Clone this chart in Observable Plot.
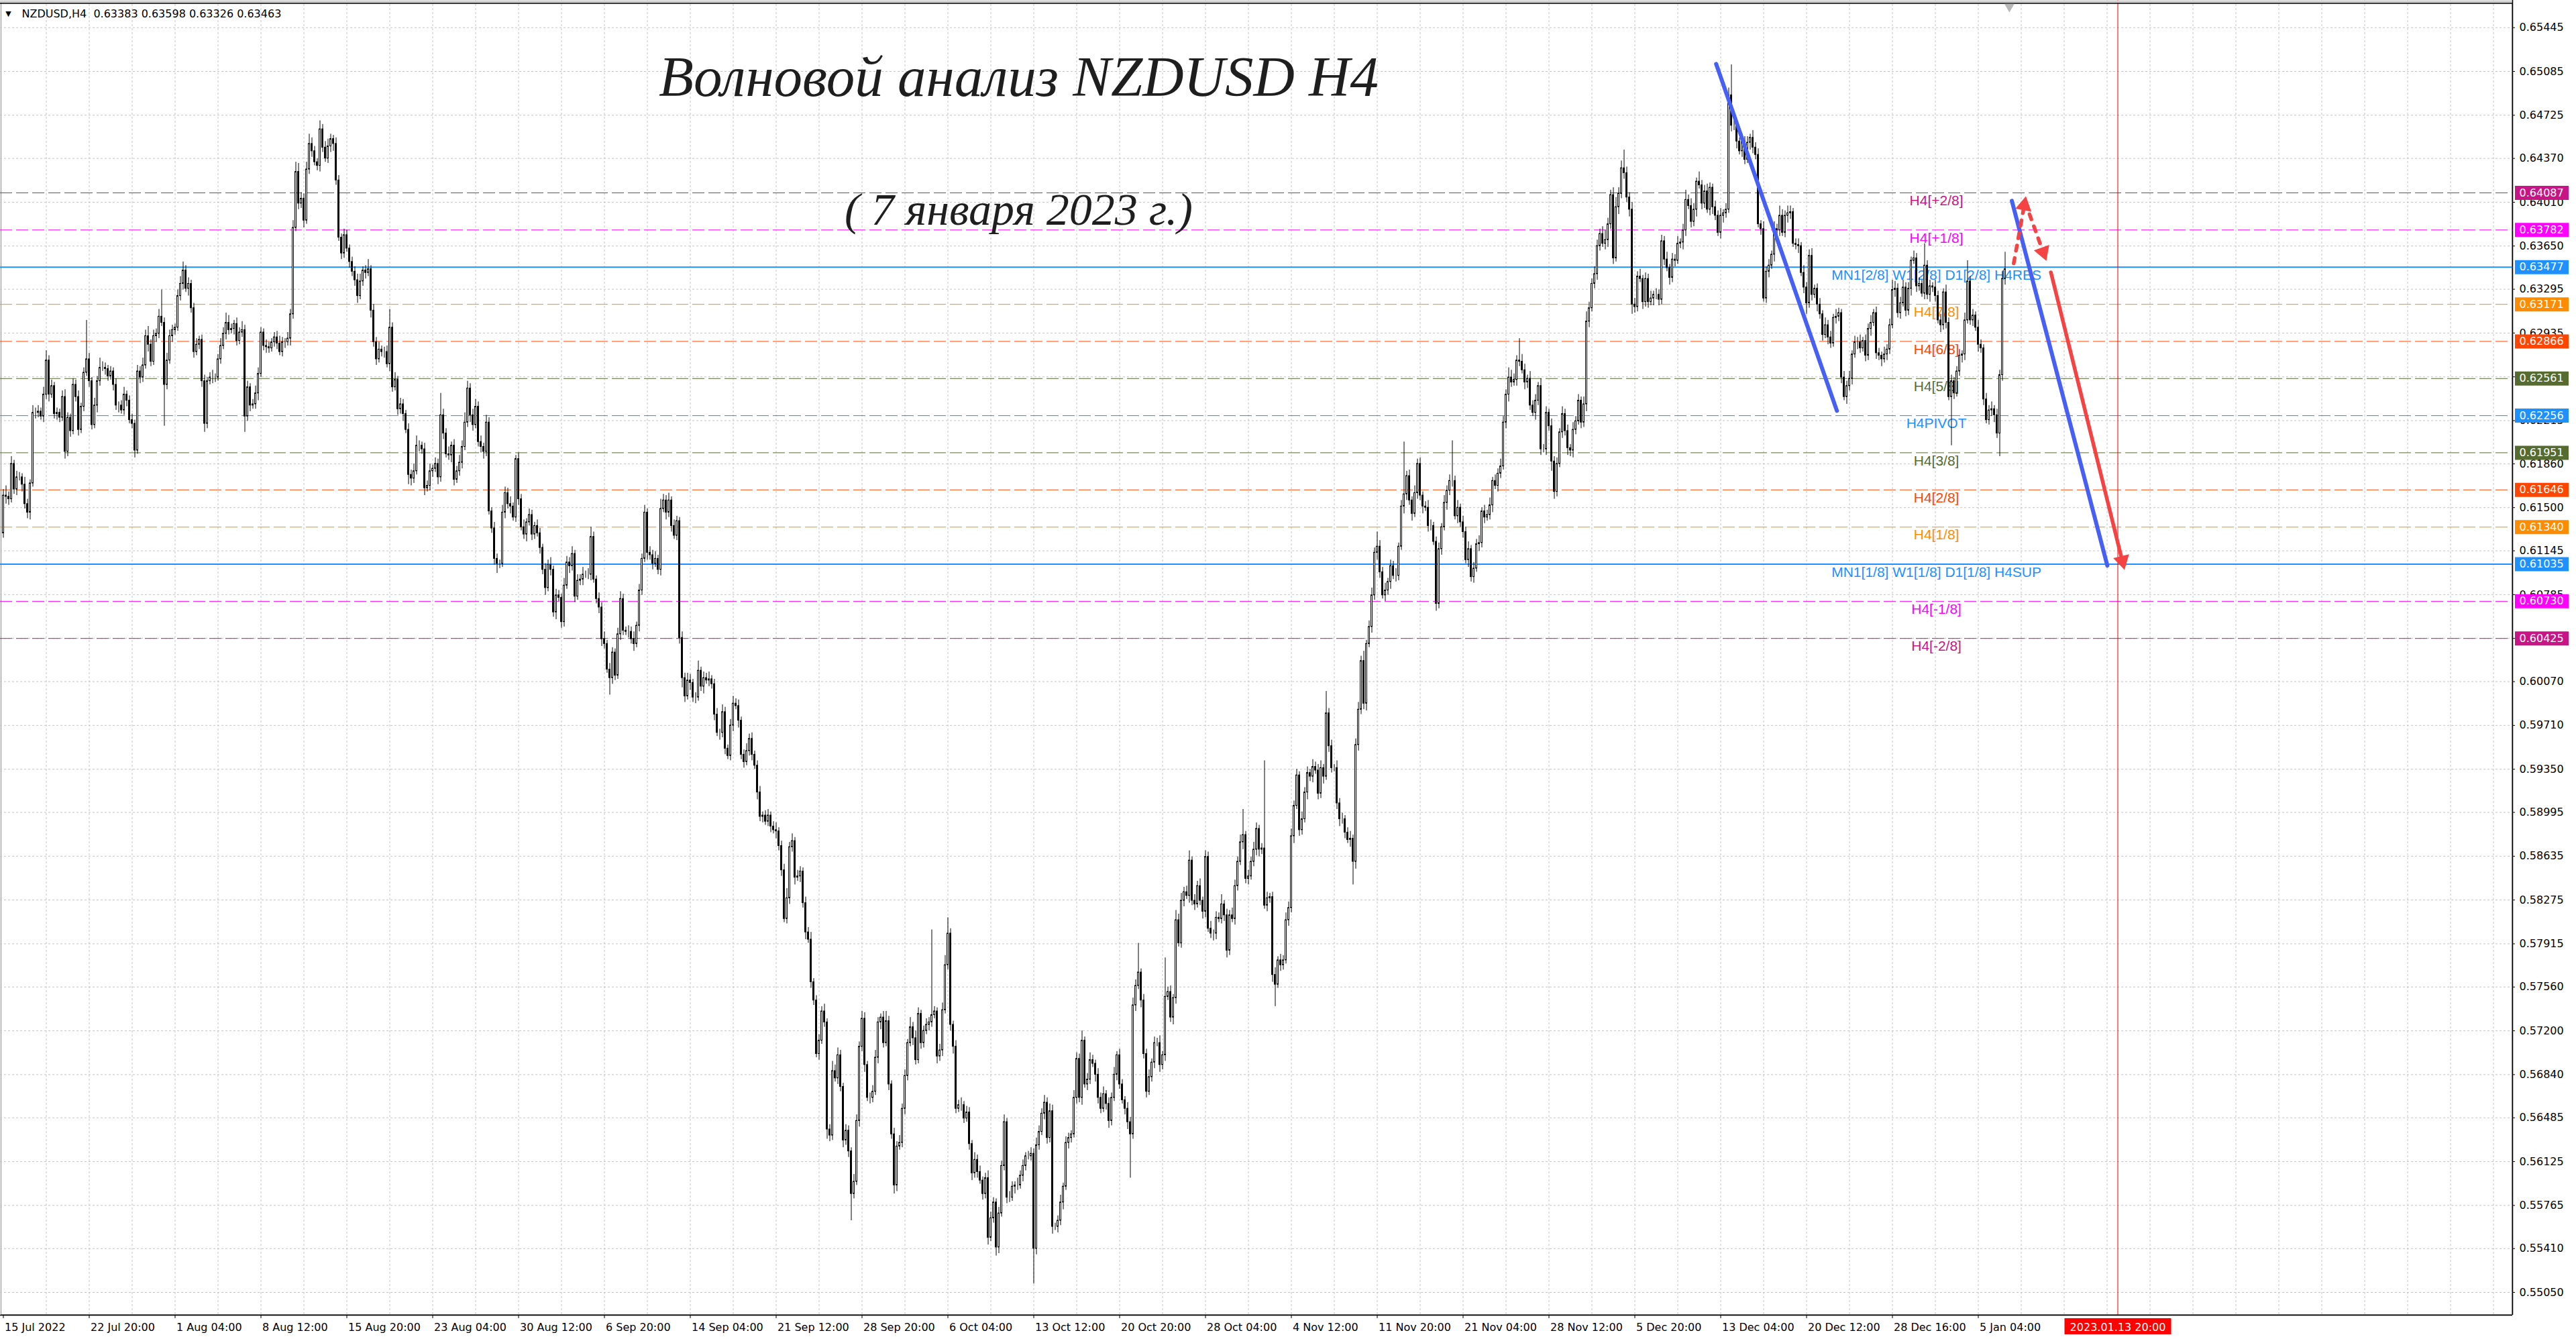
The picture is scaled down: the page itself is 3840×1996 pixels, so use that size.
<!DOCTYPE html>
<html><head><meta charset="utf-8">
<script src="https://cdn.jsdelivr.net/npm/d3@7"></script>
<script src="https://cdn.jsdelivr.net/npm/@observablehq/plot@0.6"></script>
<style>html,body{margin:0;padding:0;background:#fff;overflow:hidden}svg{display:block}</style>
</head><body><div id="chart"></div>
<script>
// ===== DATA =====
const symbolName = "NZDUSD,H4";
const lastBarOHLC = [0.63383, 0.63598, 0.63326, 0.63463];
const titleText = "Волновой анализ NZDUSD H4";
const subtitleText = "( 7 января 2023 г.)";

// H4 closes in pips (0.0001), bar 0 = 15 Jul 2022 12:00
const firstOpen = 6129;
const closesA = [
6160,6159,6157,6186,6165,6175,6175,6169,6153,6146,
6170,6228,6228,6229,6225,6243,6271,6243,6250,6227,
6228,6224,6241,6196,6224,6213,6251,6241,6214,6233,
6261,6272,6254,6218,6234,6254,6265,6265,6264,6258,
6262,6251,6234,6234,6230,6243,6238,6222,6219,6197,
6262,6257,6267,6291,6284,6270,6291,6293,6307,6302,
6251,6271,6291,6296,6298,6324,6334,6345,6330,6334,
6314,6278,6284,6288,6254,6219,6254,6257,6257,6257,
6272,6283,6293,6302,6296,6297,6301,6287,6294,6296,
6225,6249,6234,6235,6244,6260,6294,6283,6282,6281,
6286,6290,6285,6278,6286,6286,6289,6309,6380,6426,
6400,6404,6386,6428,6449,6443,6434,6431,6461,6446,
6437,6447,6453,6449,6419,6372,6359,6374,6363,6352,
6344];
const closesB = [
6337,6324,6336,6345,6343,6346,6312,6286,6272,6280,
6278,6278,6268,6298,6249,6255,6231,6235,6227,6214,
6177,6174,6180,6201,6201,6198,6166,6168,6180,6182,
6186,6175,6226,6211,6194,6193,6201,6173,6180,6187,
6200,6220,6248,6226,6218,6233,6204,6200,6196,6220,
6147,6133,6108,6104,6104,6146,6162,6153,6151,6142,
6190,6157,6134,6128,6138,6144,6128,6135,6129,6117,
6099,6084,6103,6099,6064,6078,6076,6056,6086,6105,
6102,6112,6077,6090,6091,6095,6095,6095,6126,6091,
6075,6068,6042,6038,6017,6010,6031,6012,6046,6075,
6049,6048,6048,6042,6038,6053,6082,6108,6146,6113,
6111,6104,6108,6099,6149,6156,6146,6156,6135,6127,
6139,6043,6010];
const closesC = [
5995,6008,6006,5994,5994,6016,6003,6010,6008,6009,
6005,5980,5965,5965,5982,5952,5946,5971,5989,5987,
5975,5947,5941,5950,5960,5947,5938,5916,5896,5897,
5892,5897,5888,5885,5884,5872,5852,5812,5829,5871,
5876,5846,5847,5851,5825,5801,5795,5760,5745,5701,
5712,5736,5727,5639,5634,5687,5681,5700,5674,5630,
5638,5621,5586,5596,5646,5707,5730,5692,5665,5665,
5670,5698,5727,5731,5710,5728,5676,5635,5593,5625,
5628,5656,5683,5710,5723,5714,5696,5734,5710,5720,
5725,5727,5733,5736,5699,5704,5737,5774,5800,5725,
5707,5656,5659,5659,5648,5653,5627,5603,5614,5604,
5597,5586,5599,5550,5566,5579,5542,5570,5609,5645,
5583,5583,5592,5593,5593,5601,5609,5617,5617,5619,
5541,5626,5637,5652,5661];
const closesD = [
5632,5654,5559,5559,5564,5579,5592,5628,5632,5635,
5665,5697,5665,5712,5676,5680,5696,5693,5684,5665,
5656,5668,5660,5646,5665,5684,5700,5676,5663,5656,
5645,5635,5741,5757,5768,5745,5701,5670,5682,5694,
5710,5710,5692,5700,5748,5752,5731,5747,5811,5792,
5827,5834,5831,5860,5827,5824,5839,5827,5818,5863,
5804,5800,5800,5813,5812,5824,5815,5786,5815,5812,
5839,5859,5875,5881,5845,5847,5859,5869,5886,5869,
5870,5823,5829,5830,5766,5758,5778,5774,5778,5811,
5821,5880,5905,5930,5885,5894,5916,5932,5929,5937,
5934,5915,5936,5929,5981,5954,5936,5936,5907,5894,
5894,5883,5877,5878,5859];
const closesE = [
5955,5984,6024,5989,6038,6052,6078,6113,6118,6097,
6078,6082,6089,6102,6094,6094,6118,6151,6161,6176,
6156,6145,6162,6186,6160,6151,6150,6135,6135,6122,
6071,6116,6134,6154,6164,6172,6172,6143,6150,6138,
6130,6107,6116,6093,6100,6120,6121,6147,6142,6144,
6152,6172,6168,6178,6184,6220,6243,6257,6253,6255,
6271,6270,6263,6253,6256,6234,6228,6238,6250,6198,
6198,6228,6217,6188,6163,6186,6212,6227,6213,6199,
6197,6214,6221,6238,6220,6235,6303,6314,6334,6342,
6365,6375,6367,6370,6383,6407,6355,6397,6408,6429,
6425,6405,6395,6317,6315,6340,6338,6319,6338,6319,
6322,6325,6325,6321];
const closesF = [
6369,6354,6347,6339,6354,6353,6367,6368,6378,6403,
6398,6385,6395,6418,6415,6400,6410,6395,6413,6397,
6390,6376,6390,6392,6395,6489,6464,6464,6451,6443,
6451,6436,6450,6454,6446,6440,6383,6379,6322,6344,
6349,6358,6379,6378,6390,6376,6390,6392,6393,6367,
6366,6365,6343,6331,6318,6357,6325,6330,6317,6309,
6292,6300,6290,6285,6306,6307,6310,6257,6241,6250,
6256,6276,6286,6286,6281,6287,6275,6297,6302,6310,
6277,6275,6272,6276,6280,6300,6329,6330,6310,6318,
6331,6312,6330,6353,6355,6332,6334,6326,6349,6325,
6332,6331,6324,6304,6300,6327,6302,6241,6254,6244,
6262,6275,6276,6304,6336,6304,6308,6298,6284,6281,
6239,6222,6230,6231,6226,6211,6259,6338,6346];

// upper / lower shadow lengths in pips
const wickUpA = [5,8,4,6,3,5,4,3,6,4,3,6,4,5,3,6,8,4,5,3,4,3,5,6,4,3,5,4,5,3,4,32,5,3,6,4,8,5,4,3,4,3,5,3,4,6,3,4,5,3,5,4,6,5,8,4,5,4,6,22,4,6,5,4,3,5,6,7,4,5,3,4,5,3,4,5,3,4,6,3,4,6,5,8,6,4,3,5,4,7,4,5,3,4,6,5,4,3,5,4,3,4,5,6,4,3,5,4,6,8,7,5,4,6,8,5,4,3,7,4,5,6,4,3,5,4,3,5,4,3,4];
const wickDnA = [4,6,5,3,4,5,3,6,4,5,6,3,5,4,3,5,4,6,3,4,5,4,3,6,4,5,3,4,5,3,4,3,5,4,3,6,4,3,5,4,3,5,4,6,3,4,5,3,4,6,3,5,4,3,6,4,3,5,4,3,34,4,3,5,4,3,4,5,3,6,4,5,3,4,5,7,4,3,5,4,3,4,3,5,4,3,5,4,3,4,13,4,5,3,4,6,3,4,5,4,3,4,5,3,4,5,3,6,4,3,5,4,6,3,4,5,3,4,5,4,3,4,5,6,4,3,5,4,3,5,4];
const wickUpB = [4,5,6,3,4,8,3,5,4,6,3,4,5,15,4,6,3,5,4,3,5,4,6,8,4,3,5,4,6,3,5,4,18,5,4,6,3,5,4,6,5,8,6,4,5,6,4,5,3,6,4,3,5,4,3,6,5,4,6,3,3,5,4,6,3,5,4,3,5,4,3,5,4,6,3,5,4,3,6,5,4,6,3,5,4,6,3,5,8,4,3,5,4,6,3,5,4,3,5,6,4,3,5,4,6,3,5,4,6,3,5,4,6,3,8,5,4,6,3,5,4,3,5];
const wickDnB = [5,6,3,4,5,3,6,4,5,3,4,5,3,6,4,3,5,4,6,3,8,6,4,3,5,4,6,3,4,5,3,6,4,5,3,4,6,5,3,4,5,3,4,6,5,3,4,5,6,4,3,4,5,8,4,3,5,4,6,3,4,5,3,4,6,3,5,4,3,5,4,6,3,5,4,6,3,5,4,3,6,4,5,3,4,5,3,4,5,3,4,5,6,4,3,14,5,4,3,5,4,3,5,4,6,3,5,4,3,6,4,5,3,4,5,3,6,4,5,3,4,5,8];
const wickUpC = [4,6,5,3,4,8,3,5,4,6,3,4,5,3,6,4,3,5,6,4,5,3,4,6,4,5,3,4,5,3,4,5,3,4,6,3,4,5,8,4,6,3,5,4,3,5,4,6,3,4,5,4,6,3,4,8,5,6,4,3,5,4,3,6,5,4,6,5,3,4,5,6,4,3,5,8,4,3,5,4,6,4,5,3,8,4,6,5,3,4,5,4,70,4,3,5,6,8,13,4,3,5,4,6,3,5,4,3,6,4,5,3,4,6,5,4,3,5,4,6,3,5,4,3,6,4,5,3,4,5,4,6,5,4,6];
const wickDnC = [5,3,6,4,5,3,4,6,3,5,4,5,3,6,4,5,3,4,5,3,6,4,5,3,4,5,3,6,4,5,3,4,5,3,6,4,5,3,4,5,4,6,3,5,4,6,3,5,4,3,5,3,4,8,5,4,3,5,4,6,4,5,22,4,3,5,4,6,3,5,4,3,5,6,4,3,5,4,7,5,3,4,5,4,3,6,4,3,5,4,3,5,4,3,6,4,5,3,4,5,6,4,3,5,4,3,5,6,4,5,3,5,4,6,3,4,7,5,3,4,5,4,3,6,4,3,5,4,3,4,29,5,4,3,5];
const wickUpD = [4,6,5,3,4,6,3,5,4,3,6,5,4,8,3,5,6,4,3,5,4,6,3,5,4,6,3,5,4,3,5,4,6,5,24,3,5,4,6,3,5,4,6,3,32,4,5,3,8,5,6,4,5,8,3,5,4,6,3,5,4,6,3,5,4,8,3,5,4,6,5,4,6,21,3,5,4,6,5,3,4,72,5,3,4,6,3,5,4,6,5,6,4,5,3,6,4,5,3,6,4,5,6,3,18,4,5,3,6,4,5,3,4,6,3];
const wickDnD = [5,4,6,3,5,4,6,3,5,4,3,5,4,6,3,5,4,3,6,5,4,3,5,6,4,3,5,4,3,5,6,36,4,5,3,6,4,5,3,4,5,3,6,4,5,3,4,6,5,3,4,5,3,6,4,5,3,4,6,5,3,4,6,5,3,4,5,6,4,3,5,4,3,6,4,5,3,4,5,6,4,3,5,4,6,18,3,5,4,3,5,4,6,3,5,4,3,6,4,5,3,5,4,6,3,5,4,3,5,6,4,5,3,6,19];
const wickUpE = [5,6,4,8,3,5,6,4,12,5,4,6,3,5,4,6,3,5,43,4,5,3,6,4,5,3,4,6,5,3,4,5,3,6,4,5,33,4,6,3,5,4,6,3,5,4,6,3,5,4,6,3,5,4,6,5,4,8,6,5,4,18,6,5,3,6,4,5,3,6,4,5,3,6,4,5,3,6,4,5,3,6,4,5,3,6,8,5,4,6,5,4,6,8,5,4,6,8,5,6,15,5,4,6,5,4,6,3,5,4,6,3,5,4];
const wickDnE = [6,5,4,5,6,3,5,4,6,5,3,5,4,6,3,5,4,3,6,5,4,6,3,5,4,6,3,5,4,3,6,4,5,3,6,4,5,3,6,4,5,3,6,4,5,3,6,4,5,3,4,6,3,5,4,3,5,6,4,3,5,4,3,6,5,4,3,6,4,5,3,5,4,8,6,4,3,5,4,6,5,6,4,3,5,4,6,5,3,4,5,4,3,5,6,4,5,3,6,4,5,4,6,8,5,4,3,6,4,5,3,6,4,5];
const wickUpF = [5,4,6,3,5,4,6,3,5,8,4,6,5,3,8,4,5,6,4,3,5,4,6,3,5,6,25,4,5,3,6,4,5,3,6,4,5,3,6,4,5,3,6,4,8,5,4,6,5,3,4,5,3,6,4,5,6,3,4,5,3,6,4,5,3,6,4,3,5,4,6,3,5,4,6,3,5,4,6,3,5,4,3,6,4,5,8,6,4,5,6,4,5,3,6,4,5,3,18,4,5,3,6,4,5,3,6,4,5,3,4,5,3,6,17,4,5,3,6,4,3,5,4,6,3,5,4,6,14];
const wickDnF = [4,5,3,6,4,5,3,4,6,5,3,5,4,6,3,5,4,3,5,6,4,3,5,6,4,3,5,4,6,3,5,4,3,6,5,4,3,5,3,4,5,3,6,4,5,3,4,6,5,3,4,6,3,5,9,4,5,3,6,4,5,3,6,4,3,5,4,5,3,6,4,5,3,6,4,3,5,4,6,3,5,4,6,3,5,4,3,6,4,5,3,5,4,6,3,5,4,3,5,4,6,4,5,3,6,4,5,3,40,5,3,4,6,5,3,4,5,3,6,4,5,3,4,5,6,4,19,5,5];

// axis ticks and labels
const priceTicks = [0.65445,0.65085,0.64725,0.64370,0.64010,0.63650,0.63295,0.62935,0.62575,0.62215,0.61860,0.61500,0.61145,0.60785,0.60425,0.60070,0.59710,0.59350,0.58995,0.58635,0.58275,0.57915,0.57560,0.57200,0.56840,0.56485,0.56125,0.55765,0.55410,0.55050];
const timeLabels = ["15 Jul 2022","22 Jul 20:00","1 Aug 04:00","8 Aug 12:00","15 Aug 20:00","23 Aug 04:00","30 Aug 12:00","6 Sep 20:00","14 Sep 04:00","21 Sep 12:00","28 Sep 20:00","6 Oct 04:00","13 Oct 12:00","20 Oct 20:00","28 Oct 04:00","4 Nov 12:00","11 Nov 20:00","21 Nov 04:00","28 Nov 12:00","5 Dec 20:00","13 Dec 04:00","20 Dec 12:00","28 Dec 16:00","5 Jan 04:00"];
const timeLabelBars = [0,32,64,96,128,160,192,224,256,288,320,352,384,416,448,480,512,544,576,608,640,672,704,736];
const futureBar = 788;
const futureLabel = "2023.01.13 20:00";
const chartShiftBar = 747.6;

// Murrey levels
const levelValues = [0.64087,0.63782,0.63477,0.63171,0.62866,0.62561,0.62256,0.61951,0.61646,0.61340,0.61035,0.60730,0.60425];
const levelNames = ["H4[+2/8]","H4[+1/8]","MN1[2/8] W1[2/8] D1[2/8] H4RES","H4[7/8]","H4[6/8]","H4[5/8]","H4PIVOT","H4[3/8]","H4[2/8]","H4[1/8]","MN1[1/8] W1[1/8] D1[1/8] H4SUP","H4[-1/8]","H4[-2/8]"];
const levelColors = ["#C71585","#FF00FF","#1E90FF","#FF8C00","#FF4500","#556B2F","#1E90FF","#556B2F","#FF4500","#FF8C00","#1E90FF","#FF00FF","#C71585"];
const levelSolid = [false,false,true,false,false,false,false,false,false,false,true,false,false];
const levelLabelBar = 720.4;

// hand-drawn forecast lines (bar index, price)
const blueLines = [
  {x1: 638.3, y1: 0.65147, x2: 683.3, y2: 0.62296},
  {x1: 748.5, y1: 0.64022, x2: 784.1, y2: 0.61023}
];
const redSolidArrows = [{x1: 763.05, y1: 0.63434, x2: 790.5, y2: 0.60988}];
const redDashedArrows = [
  {x1: 749.2, y1: 0.63508, x2: 753.75, y2: 0.64059},
  {x1: 755.1, y1: 0.63911, x2: 761.35, y2: 0.63528}
];

// ===== BUILD =====
const W = 3840, H = 1996, mR = 95, mB = 36;
const FW = W - mR, FH = H - mB;
const xDomain = [-1.125, 935.125];
const yDomain = [0.548627, 0.656694];
const xPx = d3.scaleLinear(xDomain, [0, FW]);
const yPx = d3.scaleLinear(yDomain, [FH, 0]);

const closes = [...closesA, ...closesB, ...closesC, ...closesD, ...closesE, ...closesF];
const wUp = [...wickUpA, ...wickUpB, ...wickUpC, ...wickUpD, ...wickUpE, ...wickUpF];
const wDn = [...wickDnA, ...wickDnB, ...wickDnC, ...wickDnD, ...wickDnE, ...wickDnF];
const candles = closes.map((c, i) => {
  const o = i === 0 ? firstOpen : closes[i - 1];
  return {i, open: o / 1e4, close: c / 1e4,
    high: (Math.max(o, c) + (wUp[i] ?? 3)) / 1e4,
    low: (Math.min(o, c) - (wDn[i] ?? 3)) / 1e4,
    bull: c >= o};
});
const levels = levelValues.map((v, k) => ({value: v, name: levelNames[k], color: levelColors[k], solid: levelSolid[k]}));
const timeTicks = timeLabels.map((t, k) => ({bar: timeLabelBars[k], label: t}));
const gridBars = d3.range(16, 936, 16);

const HEAD = 21;
function arrowParts(arr) {
  return arr.map(a => {
    const x0 = xPx(a.x1), y0 = yPx(a.y1), x1 = xPx(a.x2), y1 = yPx(a.y2);
    const L = Math.hypot(x1 - x0, y1 - y0), ux = (x1 - x0) / L, uy = (y1 - y0) / L;
    return {
      x1: a.x1, y1: a.y1,
      ex: xPx.invert(x1 - ux * HEAD * 0.8), ey: yPx.invert(y1 - uy * HEAD * 0.8),
      cx: xPx.invert(x1 - ux * HEAD * 2 / 3), cy: yPx.invert(y1 - uy * HEAD * 2 / 3),
      angle: Math.atan2(ux, -uy) * 180 / Math.PI
    };
  });
}
const redSolid = arrowParts(redSolidArrows);
const redDashed = arrowParts(redDashedArrows);
const headR = Math.sqrt(3 * Math.sqrt(3) * (HEAD / 3) ** 2 / Math.PI);

const BLUE = "#4660f5", RED = "#f54242";
const FONT = "DejaVu Sans";

const plot = Plot.plot({
  width: W, height: H,
  marginLeft: 0, marginRight: mR, marginTop: 0, marginBottom: mB,
  x: {domain: xDomain, axis: null},
  y: {domain: yDomain, axis: null},
  style: {fontFamily: FONT, fontSize: "16px", background: "#fff", color: "#000"},
  marks: [
    Plot.frame({stroke: "#8a8a8a", inset: 1}),
    // grid
    Plot.ruleY(priceTicks, {stroke: "#c4c4c4", strokeDasharray: "3,3"}),
    Plot.ruleX(gridBars, {stroke: "#c4c4c4", strokeDasharray: "3,3"}),
    // Murrey levels
    Plot.ruleY(levels.filter(d => !d.solid), {y: "value", stroke: "color", strokeDasharray: "18,6"}),
    Plot.ruleY(levels.filter(d => d.solid), {y: "value", stroke: "color", strokeWidth: 2}),
    Plot.text(levels, {x: () => levelLabelBar, y: "value", text: "name", fill: "color", dy: 12,
      fontSize: 21, fontFamily: "Liberation Sans"}),
    // future time marker
    Plot.ruleX([futureBar], {stroke: "#e60000"}),
    // candles
    Plot.ruleX(candles, {x: "i", y1: "low", y2: "high", stroke: "#000"}),
    Plot.rect(candles, {x1: d => d.i - 0.25, x2: d => d.i + 0.25, y1: "open", y2: "close",
      fill: d => d.bull ? "#fff" : "#000", stroke: "#000"}),
    // drawn lines
    Plot.link(blueLines, {x1: "x1", y1: "y1", x2: "x2", y2: "y2", stroke: BLUE, strokeWidth: 6, strokeLinecap: "round"}),
    Plot.link(redSolid, {x1: "x1", y1: "y1", x2: "ex", y2: "ey", stroke: RED, strokeWidth: 5.5, strokeLinecap: "round"}),
    Plot.link(redDashed, {x1: "x1", y1: "y1", x2: "ex", y2: "ey", stroke: RED, strokeWidth: 5.5, strokeDasharray: "8,11", strokeLinecap: "round"}),
    Plot.dot([...redSolid, ...redDashed], {x: "cx", y: "cy", symbol: "triangle", r: headR, rotate: "angle", fill: RED, stroke: "none"}),
    // frame edges
    Plot.ruleY([yDomain[1]], {stroke: "#cfcfcf", strokeWidth: 4, dy: 2}),
    Plot.ruleY([yDomain[1]], {stroke: "#000", strokeWidth: 1.5, dy: 4.5}),
    Plot.ruleX([xDomain[1]], {stroke: "#000", strokeWidth: 1.5}),
    Plot.ruleY([yDomain[0]], {stroke: "#000", strokeWidth: 1.5}),
    Plot.dot([chartShiftBar], {x: d => d, frameAnchor: "top", dy: 9.5, symbol: "triangle", r: 5.5, rotate: 180, fill: "#b8b8b8", stroke: "none"}),
    // price axis
    Plot.tickY(priceTicks, {y: d => d, insetLeft: FW - 4, dx: 4, stroke: "#000"}),
    Plot.text(priceTicks, {y: d => d, text: d => d.toFixed(5), frameAnchor: "right", textAnchor: "start", lineAnchor: "middle", dx: 10, fill: "#000", fontSize: 16}),
    Plot.tickY(levels, {y: "value", stroke: "color", strokeWidth: 21, insetLeft: FW - 80, dx: 84}),
    Plot.text(levels, {y: "value", text: d => d.value.toFixed(5), frameAnchor: "right", textAnchor: "start", lineAnchor: "middle", dx: 10, fill: "#fff", fontSize: 16}),
    // time axis
    Plot.tickX(timeTicks, {x: "bar", insetTop: FH - 5, dy: 5, stroke: "#000"}),
    Plot.text(timeTicks, {x: "bar", text: "label", frameAnchor: "bottom", textAnchor: "start", lineAnchor: "middle", dx: 2, dy: 18, fill: "#000", fontSize: 16}),
    Plot.tickX([futureBar], {x: d => d, stroke: "#ff0000", strokeWidth: 159, insetTop: FH - 24, dy: 29}),
    Plot.text([futureBar], {x: d => d, text: () => futureLabel, frameAnchor: "bottom", textAnchor: "middle", lineAnchor: "middle", dy: 18, fill: "#fff", fontSize: 16}),
    // header
    Plot.text(["▼"], {frameAnchor: "top-left", text: d => d, textAnchor: "middle", lineAnchor: "middle", dx: 12, dy: 20, fontSize: 11, fill: "#000"}),
    Plot.text([symbolName + "  " + lastBarOHLC.map(v => v.toFixed(5)).join(" ")], {frameAnchor: "top-left", text: d => d, textAnchor: "start", lineAnchor: "middle", dx: 32, dy: 20, fontSize: 16, fill: "#000"}),
    // title
    Plot.text([titleText], {frameAnchor: "top-left", text: d => d, textAnchor: "middle", lineAnchor: "middle", dx: 1518, dy: 115, fontSize: 85, fontFamily: "Liberation Serif", fontStyle: "italic", fill: "#1e1e1e"}),
    Plot.text([subtitleText], {frameAnchor: "top-left", text: d => d, textAnchor: "middle", lineAnchor: "middle", dx: 1518, dy: 313, fontSize: 68, fontFamily: "Liberation Serif", fontStyle: "italic", fill: "#1e1e1e"})
  ]
});
document.getElementById("chart").appendChild(plot);
</script>
</body></html>
